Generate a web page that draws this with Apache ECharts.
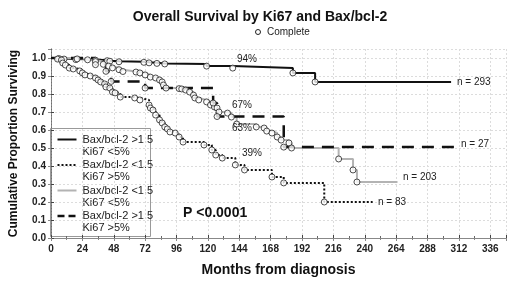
<!DOCTYPE html>
<html>
<head>
<meta charset="utf-8">
<script src="https://cdn.jsdelivr.net/npm/echarts@6/dist/echarts.min.js"></script>
<style>
  html, body { margin: 0; padding: 0; background: #fff; }
  #chart { width: 520px; height: 283px; }
</style>
</head>
<body>
<div id="chart"></div>
<script>
// Kaplan-Meier curves, months vs proportion surviving
// Bax/bcl-2 >1.5, Ki67 <5%
var hiLowT = [6, 10, 19, 34, 43, 45, 52, 71, 75, 81, 87, 119, 139, 185, 202];
var hiLowS = [0.997, 0.994, 0.991, 0.988, 0.985, 0.982, 0.979, 0.976, 0.973, 0.97, 0.967, 0.955, 0.944, 0.917, 0.867];
var hiLowEnd = 306;

// Bax/bcl-2 <1.5, Ki67 >5%
var lowHiT = [5, 8, 9, 11, 14, 17, 22, 24, 26, 30, 34, 36, 38, 41, 42, 45, 47, 49, 53, 64, 68, 75, 76, 78, 80, 83, 85, 87, 89, 91, 95, 98, 101, 117, 123, 126, 131, 141, 148, 169, 178, 209];
var lowHiS = [0.994, 0.989, 0.972, 0.961, 0.944, 0.939, 0.928, 0.917, 0.906, 0.9, 0.889, 0.878, 0.867, 0.856, 0.839, 0.833, 0.811, 0.806, 0.783, 0.778, 0.767, 0.739, 0.722, 0.711, 0.683, 0.656, 0.639, 0.617, 0.606, 0.589, 0.583, 0.561, 0.533, 0.517, 0.489, 0.461, 0.444, 0.406, 0.378, 0.339, 0.306, 0.2];
var lowHiEnd = 246;

// Bax/bcl-2 <1.5, Ki67 <5%
var lowLowT = [20, 28, 34, 40, 44, 47, 52, 55, 65, 68, 72, 76, 80, 83, 85, 86, 88, 98, 100, 103, 106, 109, 110, 113, 119, 122, 125, 127, 128.5, 135, 138, 142, 157, 163, 165, 169, 173, 176, 182, 184, 220, 231, 234];
var lowLowS = [0.995, 0.99, 0.98, 0.965, 0.955, 0.945, 0.935, 0.925, 0.922, 0.917, 0.906, 0.894, 0.889, 0.878, 0.867, 0.85, 0.833, 0.83, 0.828, 0.822, 0.811, 0.794, 0.778, 0.767, 0.756, 0.739, 0.728, 0.722, 0.7, 0.694, 0.672, 0.633, 0.617, 0.611, 0.594, 0.583, 0.561, 0.544, 0.528, 0.5, 0.439, 0.378, 0.311];
var lowLowEnd = 265;

// Bax/bcl-2 >1.5, Ki67 >5%
var hiHiT = [34, 42, 46, 72, 124, 127, 178];
var hiHiS = [0.963, 0.926, 0.87, 0.833, 0.75, 0.675, 0.505];
var hiHiEnd = 311;

var xTicks = { min: 0, max: 348, step: 24 };
var yTicks = { min: 0, max: 1.05, step: 0.1 };

var FONT = "'Liberation Sans', Arial, sans-serif";

function pairs(t, s) {
  return t.map(function (v, i) { return [v, s[i]]; });
}
function curve(t, s, end) {
  var d = [[0, 1]].concat(pairs(t, s));
  d.push([end, s[s.length - 1]]);
  return d;
}

var groups = [
  { name: 'hiLow', t: hiLowT, s: hiLowS, end: hiLowEnd, color: '#111', type: 'solid', width: 2 },
  { name: 'lowHi', t: lowHiT, s: lowHiS, end: lowHiEnd, color: '#111', type: [2, 2], width: 2 },
  { name: 'lowLow', t: lowLowT, s: lowLowS, end: lowLowEnd, color: '#b3b3b3', type: 'solid', width: 2 },
  { name: 'hiHi', t: hiHiT, s: hiHiS, end: hiHiEnd, color: '#111', type: [12, 8], width: 2.5 }
];

var series = [];
groups.forEach(function (g) {
  series.push({
    name: g.name,
    type: 'line',
    step: 'end',
    symbol: 'none',
    data: curve(g.t, g.s, g.end),
    lineStyle: { color: g.color, width: g.width, type: g.type },
    z: 2
  });
});
// "Complete" observations as open circles
groups.forEach(function (g) {
  series.push({
    name: g.name + 'Complete',
    type: 'scatter',
    symbol: 'circle',
    symbolSize: 6,
    data: pairs(g.t, g.s),
    itemStyle: { color: '#fff', borderColor: '#222', borderWidth: 1 },
    z: 3
  });
});

var labelStyle = { fontFamily: FONT, fontSize: 10, fill: '#222' };
function txt(x, y, s, extra) {
  return {
    type: 'text', left: x, top: y, z: 10,
    style: Object.assign({ text: s }, labelStyle, extra || {})
  };
}

// legend drawn by hand, two-line entries
var legendRows = [
  { a: 'Bax/bcl-2 >1.5', b: 'Ki67 <5%', color: '#111', dash: null, w: 2 },
  { a: 'Bax/bcl-2 <1.5', b: 'Ki67 >5%', color: '#111', dash: [2, 2], w: 2 },
  { a: 'Bax/bcl-2 <1.5', b: 'Ki67 <5%', color: '#b3b3b3', dash: null, w: 2 },
  { a: 'Bax/bcl-2 >1.5', b: 'Ki67 >5%', color: '#111', dash: [7, 4], w: 2.5 }
];
var legendEls = [{
  type: 'rect', shape: { x: 0, y: 0, width: 100, height: 108 },
  style: { fill: '#fff', stroke: '#999', lineWidth: 1 }
}];
legendRows.forEach(function (r, i) {
  var y0 = 11 + i * 25.5;
  legendEls.push({
    type: 'line', shape: { x1: 7, y1: y0, x2: 26, y2: y0 },
    style: { stroke: r.color, lineWidth: r.w, lineDash: r.dash }
  });
  legendEls.push({
    type: 'text', x: 32, y: y0,
    style: { text: r.a + '\n' + r.b, fontFamily: FONT, fontSize: 11, lineHeight: 12, fill: '#222', verticalAlign: 'top', y: -6 }
  });
});

var chart = echarts.init(document.getElementById('chart'));
chart.setOption({
  backgroundColor: '#fff',
  animation: false,
  title: {
    text: 'Overall Survival by Ki67 and Bax/bcl-2',
    left: 'center', top: 5,
    textStyle: { fontFamily: FONT, fontSize: 14, fontWeight: 'bold', color: '#111' }
  },
  grid: { left: 48, right: 14, top: 49, bottom: 45 },
  xAxis: [{
    type: 'value', min: xTicks.min, max: xTicks.max, interval: xTicks.step,
    name: 'Months from diagnosis', nameLocation: 'middle', nameGap: 25,
    nameTextStyle: { fontFamily: FONT, fontSize: 14, fontWeight: 'bold', color: '#111' },
    axisLine: { lineStyle: { color: '#444', width: 1 } },
    axisTick: { inside: true, length: 3, lineStyle: { color: '#444' } },
    minorTick: { show: true, splitNumber: 2, length: 2, lineStyle: { color: '#666' } },
    axisLabel: { fontFamily: FONT, fontSize: 10, fontWeight: 'bold', color: '#222', margin: 6, showMaxLabel: false },
    splitLine: { show: true, lineStyle: { color: '#dcdcdc', type: [2, 2] } }
  }, {
    type: 'value', position: 'top', min: xTicks.min, max: xTicks.max, interval: xTicks.step,
    axisLine: { show: true, lineStyle: { color: '#888' } },
    axisTick: { show: true, inside: true, length: 3, lineStyle: { color: '#888' } },
    minorTick: { show: true, splitNumber: 2, length: 2, lineStyle: { color: '#888' } },
    axisLabel: { show: false }, splitLine: { show: false }
  }],
  yAxis: [{
    type: 'value', min: yTicks.min, max: yTicks.max, interval: yTicks.step,
    name: 'Cumulative Proportion Surviving', nameLocation: 'middle', nameGap: 31,
    nameTextStyle: { fontFamily: FONT, fontSize: 12, fontWeight: 'bold', color: '#111' },
    axisLine: { show: true, lineStyle: { color: '#444' } },
    axisTick: { show: true, inside: true, length: 3, lineStyle: { color: '#444' } },
    axisLabel: {
      fontFamily: FONT, fontSize: 10, fontWeight: 'bold', color: '#222', margin: 5, showMaxLabel: false,
      formatter: function (v) { return v.toFixed(1); }
    },
    splitLine: { show: true, lineStyle: { color: '#dcdcdc', type: [2, 2] } }
  }, {
    type: 'value', position: 'right', min: yTicks.min, max: yTicks.max, interval: yTicks.step,
    axisLine: { show: true, lineStyle: { color: '#888', type: [2, 1] } },
    axisTick: { show: true, inside: true, length: 3, lineStyle: { color: '#888' } },
    axisLabel: { show: false }, splitLine: { show: false }
  }],
  series: series,
  graphic: [
    { type: 'circle', shape: { cx: 258, cy: 32, r: 2.5 }, style: { fill: '#fff', stroke: '#222', lineWidth: 1 }, z: 10 },
    txt(267, 27, 'Complete'),
    txt(237, 54, '94%'),
    txt(232, 100, '67%'),
    txt(232, 123, '63%'),
    txt(242, 148, '39%'),
    txt(457, 77, 'n = 293'),
    txt(461, 139, 'n = 27'),
    txt(403, 172, 'n = 203'),
    txt(378, 197, 'n = 83'),
    txt(183, 206, 'P <0.0001', { fontSize: 14, fontWeight: 'bold', fill: '#111' }),
    { type: 'group', left: 50, top: 128, z: 20, children: legendEls }
  ]
});
</script>
</body>
</html>
